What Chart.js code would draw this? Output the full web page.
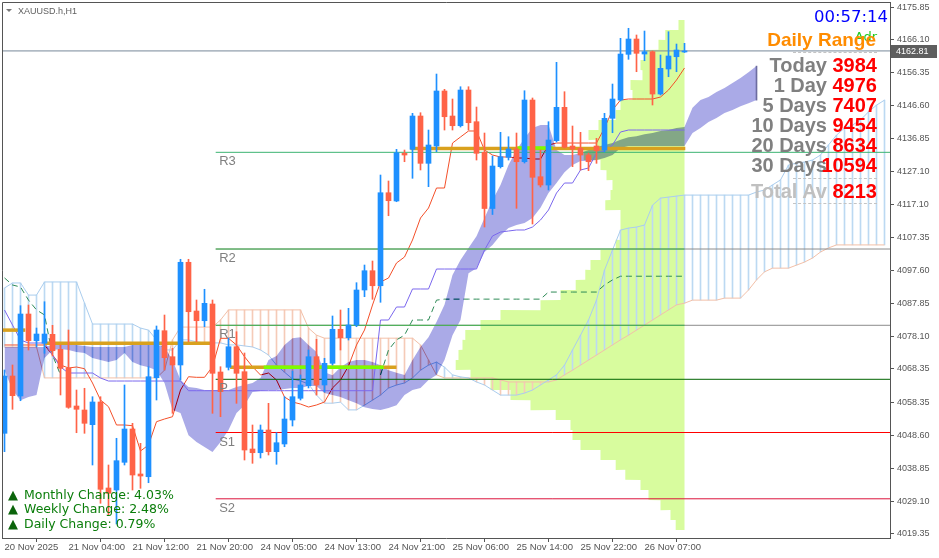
<!DOCTYPE html>
<html><head><meta charset="utf-8">
<script src="https://cdn.jsdelivr.net/npm/chart.js@4.4.1/dist/chart.umd.min.js"></script>
<style>
html,body{margin:0;padding:0;background:#fff;overflow:hidden}
#wrap{position:relative;width:939px;height:558px}
#c{position:absolute;left:0;top:0}
.ov{position:absolute;white-space:nowrap;line-height:1}
.lab{position:absolute;right:112px;font:bold 20px 'Liberation Sans',Arial,sans-serif;line-height:20px;color:#808080;white-space:nowrap}
.num{position:absolute;right:62px;font:bold 20px 'Liberation Sans',Arial,sans-serif;line-height:20px;color:#ff0000;white-space:nowrap}
.dash{position:absolute;left:793px;width:84px;height:0;border-top:1px dashed #c4c4c4}
.chg{position:absolute;left:24px;font:12.5px 'DejaVu Sans',sans-serif;line-height:1;color:#0a7d0a;white-space:nowrap}
.tri{position:absolute;left:8px;font:13px 'DejaVu Sans',sans-serif;line-height:1;color:#0b640b}
</style>
</head><body>
<div id="wrap">
<canvas id="c" width="939" height="558"></canvas>
<div class="ov" style="left:6px;top:9px;width:0;height:0;border-left:3px solid transparent;border-right:3px solid transparent;border-top:3px solid #777"></div>
<div class="ov" style="left:18px;top:6px;font:9px 'Liberation Sans',sans-serif;color:#606060">XAUUSD.h,H1</div>
<div class="ov" style="right:51px;top:7px;font:16.5px 'DejaVu Sans',sans-serif;color:#0000ff">00:57:14</div>
<div class="ov" style="right:62px;top:29px;font:13px 'DejaVu Sans',sans-serif;color:#22cc22">Adr</div>
<div class="ov" style="right:63px;top:29px;font:bold 19px 'Liberation Sans',Arial,sans-serif;color:#ff8c00">Daily Range</div>
<div class="dash" style="top:52px"></div>
<div class="lab" style="top:55px">Today</div><div class="num" style="top:55px">3984</div>
<div class="lab" style="top:75px">1 Day</div><div class="num" style="top:75px">4976</div>
<div class="lab" style="top:95px">5 Days</div><div class="num" style="top:95px">7407</div>
<div class="lab" style="top:115px">10 Days</div><div class="num" style="top:115px">9454</div>
<div class="lab" style="top:135px">20 Days</div><div class="num" style="top:135px">8634</div>
<div class="lab" style="top:155px">30 Days</div><div class="num" style="top:155px">10594</div>
<div class="dash" style="top:178px"></div>
<div class="lab" style="top:181px;color:#c0c0c0">Total Av</div><div class="num" style="top:181px">8213</div>
<div class="dash" style="top:203px"></div>
<div class="tri" style="top:488px">▲</div><div class="chg" style="top:489px">Monthly Change: 4.03%</div>
<div class="tri" style="top:502px">▲</div><div class="chg" style="top:503px">Weekly Change: 2.48%</div>
<div class="tri" style="top:517px">▲</div><div class="chg" style="top:518px">Daily Change: 0.79%</div>
</div>
<script>
// ---------- data ----------
const tickIndex = [0,8,16,24,32,40,48,56,64,72,80];
const tickLabels = ['20 Nov 2025','21 Nov 04:00','21 Nov 12:00','21 Nov 20:00','24 Nov 05:00','24 Nov 13:00','24 Nov 21:00','25 Nov 06:00','25 Nov 14:00','25 Nov 22:00','26 Nov 07:00'];
const priceTicks = [4175.85,4166.10,4156.35,4146.60,4136.85,4127.10,4117.10,4107.35,4097.60,4087.85,4078.10,4068.35,4058.35,4048.60,4038.85,4029.10,4019.35];

const open = [4049.25,4066.27,4060.33,4084.68,4076.75,4075.98,4078.65,4074.2,4068.56,4057.36,
4056.17,4051.81,4058.55,4033.01,4032.41,4040.64,4050.53,4037.17,4036.36,4065.76,
4079.72,4072.0,4069.54,4100.04,4085.57,4082.69,4087.65,4067.46,4068.85,4074.97,
4067.55,4044.59,4043.49,4050.23,4043.79,4046.08,4053.2,4059.65,4063.39,4072.0,
4063.6,4070.04,4080.14,4077.64,4081.41,4091.81,4097.54,4093.08,4120.7,4118.24,
4132.4,4133.59,4143.48,4129.43,4134.57,4150.91,4143.48,4140.6,4151.2,4141.79,
4132.7,4116.01,4128.43,4131.22,4133.68,4129.91,4148.23,4125.45,4122.99,4136.15,
4146.06,4134.57,4133.89,4131.9,4134.57,4133.38,4142.8,4148.23,4161.8,4166.35,
4161.89,4162.58,4150.01,4157.44,4161.09,4162.49];
const high = [4068.05,4069.54,4087.15,4087.35,4080.52,4088.33,4081.32,4075.48,4079.93,4062.11,
4062.62,4060.12,4060.12,4039.84,4047.77,4063.6,4052.22,4046.28,4069.03,4081.12,
4084.38,4074.5,4100.93,4100.93,4088.84,4092.02,4088.84,4069.03,4077.55,4079.42,
4073.1,4051.72,4051.72,4058.16,4049.43,4060.12,4067.75,4066.57,4073.99,4077.17,
4071.53,4084.09,4085.87,4086.37,4093.98,4099.23,4100.42,4125.96,4124.18,4133.59,
4133.38,4144.28,4144.46,4139.32,4155.95,4151.41,4148.53,4152.18,4152.18,4146.15,
4138.43,4131.6,4138.64,4137.33,4138.43,4150.99,4148.83,4133.38,4141.79,4159.43,
4150.7,4140.51,4138.64,4132.49,4136.86,4144.28,4152.98,4166.56,4169.53,4167.54,
4168.72,4162.78,4161.6,4168.52,4164.86,4165.07];
const low = [4043.79,4056.38,4058.93,4073.99,4074.97,4073.01,4072.21,4060.63,4056.68,4049.43,
4049.25,4039.84,4028.47,4024.99,4022.32,4039.84,4032.41,4032.92,4034.58,4059.14,
4068.05,4055.19,4065.08,4076.46,4076.46,4080.91,4055.19,4054.18,4068.05,4058.16,
4041.32,4040.34,4041.92,4042.81,4040.05,4045.27,4051.42,4059.14,4062.71,4060.63,
4061.52,4069.54,4073.99,4076.96,4080.91,4089.82,4089.05,4088.16,4113.87,4118.03,
4129.91,4124.98,4127.45,4122.49,4132.88,4139.32,4139.32,4140.21,4139.32,4130.41,
4110.52,4114.23,4128.04,4130.41,4116.07,4129.52,4111.41,4122.4,4121.51,4135.76,
4133.98,4128.43,4127.45,4127.24,4129.43,4132.79,4138.52,4147.94,4160.32,4156.64,
4159.9,4146.75,4149.72,4155.15,4156.64,4162.34];
const close = [4066.27,4060.42,4084.68,4076.75,4078.74,4078.74,4073.78,4068.56,4056.97,4056.38,
4052.22,4058.55,4032.62,4031.43,4041.12,4050.53,4036.87,4036.57,4066.06,4079.93,
4071.7,4069.54,4100.04,4085.36,4082.69,4087.86,4067.07,4061.61,4074.97,4067.07,
4044.29,4043.49,4050.23,4043.79,4046.46,4053.5,4060.12,4063.6,4072.0,4063.6,
4070.04,4080.14,4077.64,4081.41,4091.81,4097.54,4093.08,4120.7,4118.33,4132.58,
4131.9,4143.48,4129.43,4134.87,4150.91,4143.27,4140.6,4151.2,4141.49,4132.4,
4116.01,4128.63,4131.39,4133.68,4129.91,4148.23,4125.28,4122.99,4136.35,4146.06,
4134.19,4133.68,4131.9,4129.91,4133.18,4142.8,4148.53,4161.89,4166.35,4162.1,
4162.58,4150.01,4157.65,4161.3,4163.08,4162.81];

const tenkan = [4075.48,4075.48,4075.48,4075.48,4075.48,4075.48,4072.51,4069.54,4068.65,4068.94,
4068.44,4064.19,4059.14,4057.15,4051.72,4051.72,4051.51,4044.0,4045.78,4052.7,
4053.5,4054.18,4062.11,4066.06,4065.88,4065.88,4069.03,4077.46,4077.46,4075.48,
4072.0,4069.03,4066.57,4067.16,4065.08,4060.03,4058.55,4057.95,4057.06,4057.66,
4058.55,4062.71,4065.08,4069.24,4075.48,4079.93,4087.35,4094.18,4095.37,4099.83,
4101.61,4106.66,4113.19,4116.16,4122.1,4122.1,4135.46,4137.25,4139.03,4139.03,
4133.38,4131.9,4131.31,4131.31,4131.01,4131.01,4130.71,4130.71,4134.87,4135.46,
4135.46,4135.46,4135.46,4135.46,4135.46,4139.92,4145.26,4148.23,4148.53,4148.53,
4148.53,4148.53,4149.12,4151.2,4154.17,4157.74];
const kijun = [4085.87,4081.41,4076.96,4076.07,4076.07,4076.07,4072.51,4068.94,4067.16,4067.16,
4067.16,4067.16,4065.68,4064.78,4064.78,4064.78,4064.78,4064.78,4064.78,4064.78,
4064.78,4064.78,4064.78,4061.9,4061.9,4061.9,4061.9,4061.9,4061.9,4061.9,
4061.9,4061.9,4061.9,4061.9,4061.9,4061.9,4061.9,4061.9,4061.9,4061.9,
4061.9,4061.9,4061.9,4061.9,4061.9,4061.9,4061.9,4082.9,4082.9,4086.76,
4086.76,4092.11,4092.11,4092.11,4098.04,4098.04,4098.04,4098.04,4098.04,4098.04,
4103.69,4107.85,4109.03,4109.33,4109.63,4109.63,4110.52,4112.6,4115.57,4120.61,
4123.58,4123.58,4127.45,4128.04,4132.49,4133.09,4134.87,4138.73,4139.32,4139.32,
4139.32,4139.32,4139.32,4139.32,4139.32,4139.32];

const senkouUpper = [4074.9,4074.9,4074.9,4074.9,4074.9,4074.9,4075.5,4075.8,4075.8,4075.5,
4075.2,4074.9,4074.9,4074.9,4074.9,4074.9,4075.5,4075.5,4075.5,4075.5,
4074.9,4071.0,4065.1,4063.0,4062.7,4062.1,4062.1,4062.1,4062.1,4063.0,
4063.6,4064.2,4065.7,4071.0,4072.2,4075.5,4077.5,4077.8,4075.5,4073.4,
4067.4,4066.5,4068.9,4070.4,4071.0,4071.0,4070.4,4069.5,4068.0,4067.2,
4066.6,4071.0,4074.9,4077.8,4082.3,4087.4,4096.3,4100.7,4104.3,4107.8,
4113.2,4118.5,4123.0,4128.9,4133.4,4136.9,4139.9,4140.8,4140.8,4133.4,
4131.9,4131.9,4132.5,4133.4,4134.3,4134.9,4135.5,4136.4,4137.2,4137.5,
4138.1,4138.4,4139.0,4139.3,4139.9,4140.2,4145.9,4148.2,4149.1,4150.6,
4151.8,4153.3,4154.8,4156.5,4158.3];
const senkouLower = [4068.0,4062.1,4059.1,4060.0,4060.6,4071.6,4074.0,4074.3,4074.0,4073.4,
4073.1,4071.6,4071.0,4070.4,4071.0,4073.1,4070.4,4069.5,4068.9,4068.0,
4064.2,4056.2,4055.3,4048.7,4046.7,4045.2,4043.7,4046.7,4050.2,4055.3,
4057.6,4061.5,4061.8,4062.1,4062.1,4062.4,4062.7,4062.7,4063.3,4063.3,
4061.2,4060.6,4060.0,4059.1,4058.2,4057.0,4056.5,4056.2,4056.8,4057.6,
4060.6,4062.1,4062.7,4065.1,4066.6,4071.0,4078.4,4082.9,4096.8,4098.3,
4103.1,4105.2,4108.1,4110.2,4111.1,4111.7,4113.2,4116.2,4120.6,4123.6,
4126.8,4128.9,4130.1,4130.1,4130.4,4131.0,4131.9,4134.0,4134.6,4134.6,
4134.6,4134.6,4134.6,4134.6,4134.6,4134.6,4138.4,4139.9,4141.7,4142.9,
4144.4,4145.3,4146.4,4147.3,4148.2];

const spanA2 = [4092.4,4093.9,4093.9,4090.3,4090.3,4094.2,4094.2,4094.2,4094.2,4094.2,
4087.9,4081.7,4081.7,4081.7,4081.7,4081.7,4081.7,4080.5,4079.9,4077.0,
4074.0,4074.0,4077.0,4077.0,4076.4,4076.1,4076.1,4076.1,4075.5,4075.5,
4075.2,4074.9,4074.0,4072.5,4069.5,4067.4,4065.4,4064.8,4063.9,4060.6,
4058.2,4058.2,4058.5,4056.2,4056.2,4057.6,4059.1,4060.6,4062.7,4063.6,
4064.2,4065.7,4068.0,4069.5,4070.4,4068.9,4066.6,4066.0,4065.7,4064.5,
4063.6,4062.1,4060.6,4060.6,4060.6,4061.2,4062.1,4063.6,4065.1,4066.6,
4069.5,4074.0,4078.4,4082.9,4088.8,4097.7,4103.7,4109.6,4110.2,4110.5,
4111.1,4117.0,4119.1,4119.4,4119.7,4120.0,4120.0,4120.0,4120.0,4120.0,
4120.0,4120.0,4120.0,4120.0,4120.9,4121.5,4123.0,4124.5,4128.9,4129.5,
4129.8,4130.4,4131.9,4134.9,4137.8,4139.9,4140.8,4142.3,4144.7,4146.7,
4148.2];
const spanB2 = [4074.9,4074.9,4074.9,4074.9,4074.9,4065.7,4065.7,4065.7,4065.7,4065.7,
4065.7,4065.7,4065.7,4065.7,4065.7,4065.7,4065.7,4065.7,4065.7,4065.7,
4068.0,4077.0,4080.8,4080.8,4080.8,4080.8,4080.8,4082.9,4085.9,4085.9,
4085.9,4085.9,4085.9,4085.9,4085.9,4085.9,4085.9,4085.9,4080.5,4078.4,
4077.5,4077.5,4077.5,4077.5,4077.5,4077.5,4077.5,4077.5,4077.5,4077.5,
4077.5,4077.5,4075.5,4071.0,4066.6,4065.7,4065.7,4065.7,4065.7,4065.7,
4065.7,4065.7,4065.1,4064.5,4064.5,4064.5,4064.5,4064.5,4064.5,4065.1,
4066.6,4068.0,4069.5,4071.0,4072.5,4074.0,4075.5,4077.0,4078.4,4079.9,
4081.4,4082.9,4084.4,4085.9,4087.4,4087.9,4088.8,4088.8,4088.8,4088.8,
4089.4,4089.4,4089.4,4091.8,4094.8,4097.2,4098.3,4098.3,4098.3,4099.2,
4100.1,4101.3,4103.1,4104.3,4105.2,4105.2,4105.2,4105.2,4105.2,4105.2,
4105.2];
const kijunHigherTF = [4095.4,4093.3,4092.7,4088.8,4085.9,4084.4,4072.5,4066.6,null,null,
null,null,null,null,null,null,null,null,null,null,
null,null,null,null,null,null,null,null,null,null,
null,null,null,null,null,null,null,null,null,null,
null,null,null,null,null,null,null,4066.6,4074.0,4077.0,
4078.4,4082.9,4082.9,4082.9,4088.8,4089.1,4089.1,4089.1,4089.1,4089.1,
4089.1,4089.1,4089.1,4089.1,4089.1,4089.1,4089.1,4089.1,4091.2,4091.2,
4091.2,4091.2,4091.2,4091.2,4091.2,4093.3,4094.8,4095.9,4095.9,4095.9,
4095.9,4095.9,4095.9,4095.9,4095.9,4095.9];

const profileTop = [4172.0,4169.0,4166.1,4163.1,4160.1,4157.1,4154.2,4151.2,4148.2,4145.3,
4142.3,4139.3,4136.4,4133.4,4130.4,4127.4,4124.5,4121.5,4118.5,4115.6,
4112.6,4109.6,4106.7,4103.7,4100.7,4097.8,4094.8,4091.8,4088.8,4085.9,
4082.9,4079.9,4077.0,4074.0,4071.0,4068.1,4065.1,4062.1,4059.1,4056.2,
4053.2,4050.2,4047.3,4044.3,4041.3,4038.4,4035.4,4032.4,4029.4,4026.5,4023.5];
const profileVolume = [0.75,2.4,3.25,4.9,5.5,5.25,6.75,6.5,8,8.6,
10.75,12,11.1,12.6,10.5,9.75,9,9.25,9.9,8,
8,8,8.6,10.5,11.75,12.4,13.6,15.5,18,23,
25.5,27.4,27.75,28.25,28.6,26.75,24.25,21.75,19.25,16.1,
14.25,14,13,10.5,8.6,7.4,5.5,4.5,3,1.75,1.1];
const profileBin = 2.97;
const profileAnchor = 85;

const pivotNames = ['R3','R2','R1','P','S1','S2'];
const pivotValues = [4132.70,4103.98,4081.33,4065.29,4049.49,4029.80];
const pivotFrom = 26.4;
const pivotGreenTo = 85;

const dayLevels = [[-0.3,2.6,4079.9],[4.9,25.7,4076.0],[28.2,49.0,4068.85],[50.75,85.1,4133.83]];
const pocLevels = [[32.4,47.4,4068.85],[64.1,68.5,4134.0]];

// ---------- styles ----------
const XMIN = -0.3125, XMAX = 110.6875, YMIN = 4018.16, YMAX = 4177.34;
const BLUE='#1e90ff', RED='#ff6347';
const pivotColors = ['#3cb371','#8c8c8c','#8c8c8c','#006400','#ff0000','#dc143c'];
const pivotGreen = [null,'#3cb44b','#3cb44b',null,null,null];

const pts = a => a.map((v,i)=>({x:i,y:v}));
const N = open.length;
const datasets = [];

// candles
const candleCol = open.map((o,i)=> close[i]>=o ? BLUE : RED);
datasets.push({type:'bar', data: open.map((o,i)=>({x:i,y:[close[i],o]})), backgroundColor:candleCol, barThickness:5, minBarLength:1, grouped:false, order:1});
datasets.push({type:'bar', data: open.map((o,i)=>({x:i,y:[low[i],high[i]]})), backgroundColor:candleCol, barThickness:1, grouped:false, order:2});

// day levels
dayLevels.forEach(s=>datasets.push({type:'line', data:[{x:s[0],y:s[2]},{x:s[1],y:s[2]}], borderColor:'#d9a11e', borderWidth:3.5, pointRadius:0, order:6}));
pocLevels.forEach(s=>datasets.push({type:'line', data:[{x:s[0],y:s[2]},{x:s[1],y:s[2]}], borderColor:'#7cfc00', borderWidth:3.5, pointRadius:0, order:5}));
// pivots
pivotValues.forEach((v,k)=>{
  datasets.push({type:'line', data:[{x:pivotFrom,y:v},{x:XMAX,y:v}], borderColor:pivotColors[k], borderWidth:1, pointRadius:0, order:8});
  if (pivotGreen[k]) datasets.push({type:'line', data:[{x:pivotFrom,y:v},{x:pivotGreenTo,y:v}], borderColor:pivotGreen[k], borderWidth:1, pointRadius:0, order:7});
});
// current price line
datasets.push({type:'line', data:[{x:XMIN,y:close[N-1]},{x:XMAX,y:close[N-1]}], borderColor:'#778899', borderWidth:1, pointRadius:0, order:9});
// kijun
datasets.push({type:'line', data:pts(kijun), borderColor:'#7b68ee', borderWidth:1, pointRadius:0, order:10});

// kumo (blended)
const upIdx = datasets.length;
datasets.push({type:'line', data:pts(senkouUpper), borderColor:'rgba(0,0,0,0)', borderWidth:0, pointRadius:0,
  fill:{target:upIdx+1, above:'#555518', below:'#555518'}, order:20, blend:true});
datasets.push({type:'line', data:pts(senkouLower), borderColor:'rgba(0,0,0,0)', borderWidth:0, pointRadius:0, fill:false, order:21});
// right edge of the kumo
const kEnd = senkouUpper.length-1;
datasets.push({type:'bar', data:[{x:kEnd,y:[senkouLower[kEnd],senkouUpper[kEnd]]}], backgroundColor:'#6c6ca0', barThickness:1, grouped:false, order:11});

// tenkan + higher tf kijun
datasets.push({type:'line', data:pts(tenkan), borderColor:'#f4502a', borderWidth:1, pointRadius:0, order:30});
datasets.push({type:'line', data:pts(kijunHigherTF), borderColor:'#2e8b57', borderWidth:1, borderDash:[6,4], pointRadius:0, spanGaps:false, order:31});

// second cloud lines and hatch
datasets.push({type:'line', data:pts(spanA2), borderColor:'#aacdee', borderWidth:1, pointRadius:0, order:40});
datasets.push({type:'line', data:pts(spanB2), borderColor:'#f3c0a8', borderWidth:1, pointRadius:0, order:41});
const hatch = [], hatchCol = [];
spanA2.forEach((a,i)=>{ const b=spanB2[i]; if(a==null||b==null) return; hatch.push({x:i,y:[a,b]}); hatchCol.push(a>=b?'#bcd9f2':'#f5cbb8'); });
datasets.push({type:'bar', data:hatch, backgroundColor:hatchCol, barThickness:1, grouped:false, order:45});

// volume profile
const prof = [{x:profileAnchor,y:profileTop[0]}];
profileTop.forEach((p,k)=>{ prof.push({x:profileAnchor-profileVolume[k],y:p}); prof.push({x:profileAnchor-profileVolume[k],y:p-profileBin}); });
prof.push({x:profileAnchor,y:profileTop[profileTop.length-1]-profileBin});
datasets.push({type:'line', data:prof, borderColor:'rgba(0,0,0,0)', borderWidth:0, pointRadius:0, fill:'shape', backgroundColor:'#d8fc9e', order:60});

// ---------- plugins ----------
const blend = {
  id:'blend',
  beforeDraw(chart){ const c=chart.ctx; c.save(); c.globalCompositeOperation='source-over'; c.fillStyle='#fff'; c.fillRect(0,0,chart.width,chart.height); c.restore(); },
  beforeDatasetsDraw(chart){ const m=chart.getSortedVisibleDatasetMetas(); if(m.length && chart.data.datasets[m[m.length-1].index].blend) chart.ctx.globalCompositeOperation='difference'; },
  afterDatasetDraw(chart,args){ const ctx=chart.ctx; ctx.globalCompositeOperation='source-over';
    const m=chart.getSortedVisibleDatasetMetas(); const p=m.findIndex(mm=>mm.index===args.index);
    if(p>0 && chart.data.datasets[m[p-1].index].blend) ctx.globalCompositeOperation='difference'; },
  afterDatasetsDraw(chart){ chart.ctx.globalCompositeOperation='source-over'; }
};
const overlay = {
  id:'overlay',
  afterDraw(chart){
    const c=chart.ctx, a=chart.chartArea, xs=chart.scales.x, ys=chart.scales.y;
    c.save();
    c.strokeStyle='#555'; c.lineWidth=1;
    c.beginPath(); c.moveTo(a.left+0.5,a.bottom); c.lineTo(a.left+0.5,a.top+0.5); c.lineTo(a.right,a.top+0.5); c.stroke();
    c.font='13px "Liberation Sans", Arial, sans-serif'; c.fillStyle='#808080'; c.textBaseline='alphabetic'; c.textAlign='left';
    const lx = xs.getPixelForValue(pivotFrom)+3.5;
    pivotValues.forEach((v,k)=>{ c.fillText(pivotNames[k], lx, ys.getPixelForValue(v)+13); });
    const py = ys.getPixelForValue(close[N-1]);
    c.fillStyle='#5e5e5e'; c.fillRect(a.right+1, Math.round(py)-6, 46, 13);
    c.fillStyle='#fff'; c.font='9px "Liberation Sans", Arial, sans-serif'; c.textBaseline='middle';
    c.fillText(close[N-1].toFixed(2), a.right+6, Math.round(py)+0.5);
    c.restore();
  }
};

new Chart(document.getElementById('c'), {
  type:'bar',
  data:{datasets},
  options:{
    responsive:false, animation:false, devicePixelRatio:1,
    layout:{padding:{left:2,top:2,right:0,bottom:0}},
    plugins:{legend:{display:false}, tooltip:{enabled:false}},
    scales:{
      x:{type:'linear', min:XMIN, max:XMAX, offset:false,
        grid:{display:true, drawOnChartArea:false, drawTicks:true, tickLength:4, color:'#555'},
        border:{display:true, color:'#555'},
        ticks:{autoSkip:false, maxRotation:0, minRotation:0, align:'start', padding:0, color:'#555',
          font:{family:'Liberation Sans', size:9.5},
          callback:(v)=>{ const k=tickIndex.indexOf(v); return k>=0?tickLabels[k]:''; }},
        afterBuildTicks:(s)=>{ s.ticks = tickIndex.map(v=>({value:v})); },
        afterFit:(s)=>{ s.height=20; s.paddingLeft=0; s.paddingRight=0; }
      },
      y:{type:'linear', position:'right', min:YMIN, max:YMAX,
        grid:{display:true, drawOnChartArea:false, drawTicks:true, tickLength:4, color:'#555'},
        border:{display:true, color:'#555'},
        ticks:{autoSkip:false, padding:3, color:'#555', font:{family:'Liberation Sans', size:9},
          callback:(v)=>v.toFixed(2)},
        afterBuildTicks:(s)=>{ s.ticks = priceTicks.map(v=>({value:v})); },
        afterFit:(s)=>{ s.width=49; s.paddingTop=0; s.paddingBottom=0; }
      }
    }
  },
  plugins:[blend, overlay]
});
</script>
</body></html>
